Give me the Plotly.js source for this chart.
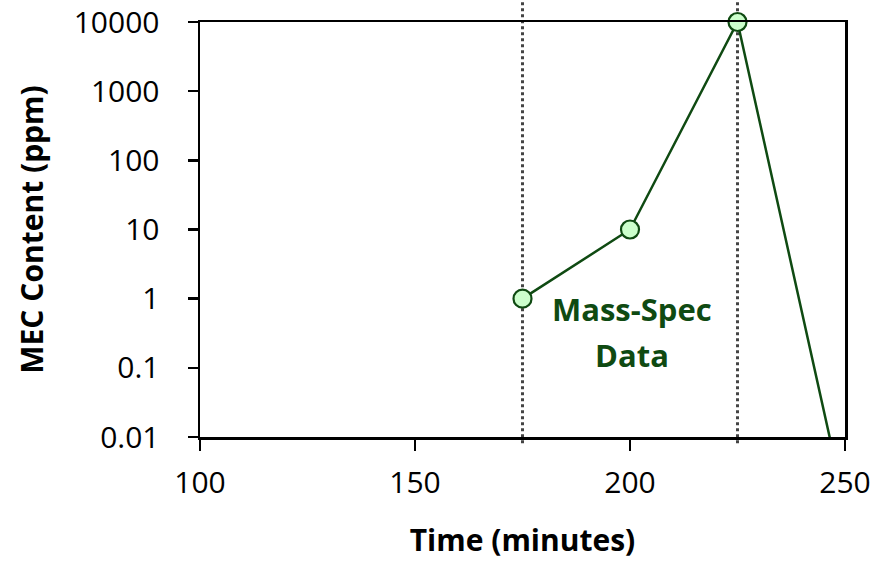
<!DOCTYPE html>
<html>
<head>
<meta charset="utf-8">
<script src="https://cdn.plot.ly/plotly-3.0.1.min.js"></script>
<style>html,body{margin:0;padding:0;background:#fff;}#chart{width:879px;height:562px;}</style>
</head>
<body>
<div id="chart"></div>
<script>
const timeMin = [175, 200, 225, 250];
const mecPpm = [1, 10, 10000, 0.001];
const yTickVals = [0.01, 0.1, 1, 10, 100, 1000, 10000];
const yTickText = ['0.01', '0.1', '1', '10', '100', '1000', '10000'];
const xTickVals = [100, 150, 200, 250];
const markerLines = [175, 225];
const noteLines = ['Mass-Spec', 'Data'];
const noteX = 200.5;
const noteY = 0.33;

const font = 'Open Sans, Lato, sans-serif';
const green = '#0f4a12';

const trace = {
  x: timeMin, y: mecPpm, type: 'scatter', mode: 'lines+markers',
  cliponaxis: false,
  line: {color: green, width: 2.5},
  marker: {size: 18, color: '#ccffcc', line: {color: green, width: 2.2}},
  showlegend: false, hoverinfo: 'skip'
};

const shapes = markerLines.map(v => ({
  type: 'line', xref: 'x', yref: 'paper', x0: v, x1: v, y0: -0.015, y1: 1.055,
  line: {color: '#444444', width: 3, dash: 'dot'}, layer: 'below'
}));

const annotations = noteLines.map((t, i) => ({
  x: noteX, y: Math.log10(noteY), xref: 'x', yref: 'y', text: '<b>' + t + '</b>',
  yshift: (noteLines.length - 1) * 23 - i * 46,
  showarrow: false, font: {size: 31, color: green, family: font}, align: 'center'
}));

const layout = {
  width: 879, height: 562,
  margin: {l: 200, r: 34, t: 22, b: 125},
  paper_bgcolor: '#ffffff', plot_bgcolor: '#ffffff',
  font: {family: font, color: '#000'},
  xaxis: {
    range: [100, 250], tickvals: xTickVals, ticktext: xTickVals.map(String),
    showgrid: false, zeroline: false, showline: true, linecolor: '#000', linewidth: 2.5,
    mirror: true, ticks: 'outside', ticklen: 11, tickwidth: 2.5, tickcolor: '#000',
    tickfont: {size: 30, family: font}, ticklabelstandoff: 6, ticklabeloverflow: 'allow',
    title: {text: '<b>Time (minutes)</b>', font: {size: 30, family: font}, standoff: 30}
  },
  yaxis: {
    type: 'log', range: [-2, 4], tickvals: yTickVals, ticktext: yTickText,
    showgrid: false, zeroline: false, showline: true, linecolor: '#000', linewidth: 2.5,
    mirror: true, ticks: 'outside', ticklen: 10, tickwidth: 2.5, tickcolor: '#000',
    tickfont: {size: 30, family: font}, ticklabelstandoff: 22, ticklabeloverflow: 'allow',
    title: {text: '<b>MEC Content (ppm)</b>', font: {size: 30, family: font}, standoff: 21}
  },
  shapes: shapes,
  annotations: annotations
};

Plotly.newPlot('chart', [trace], layout, {displayModeBar: false, staticPlot: true});
</script>
</body>
</html>
